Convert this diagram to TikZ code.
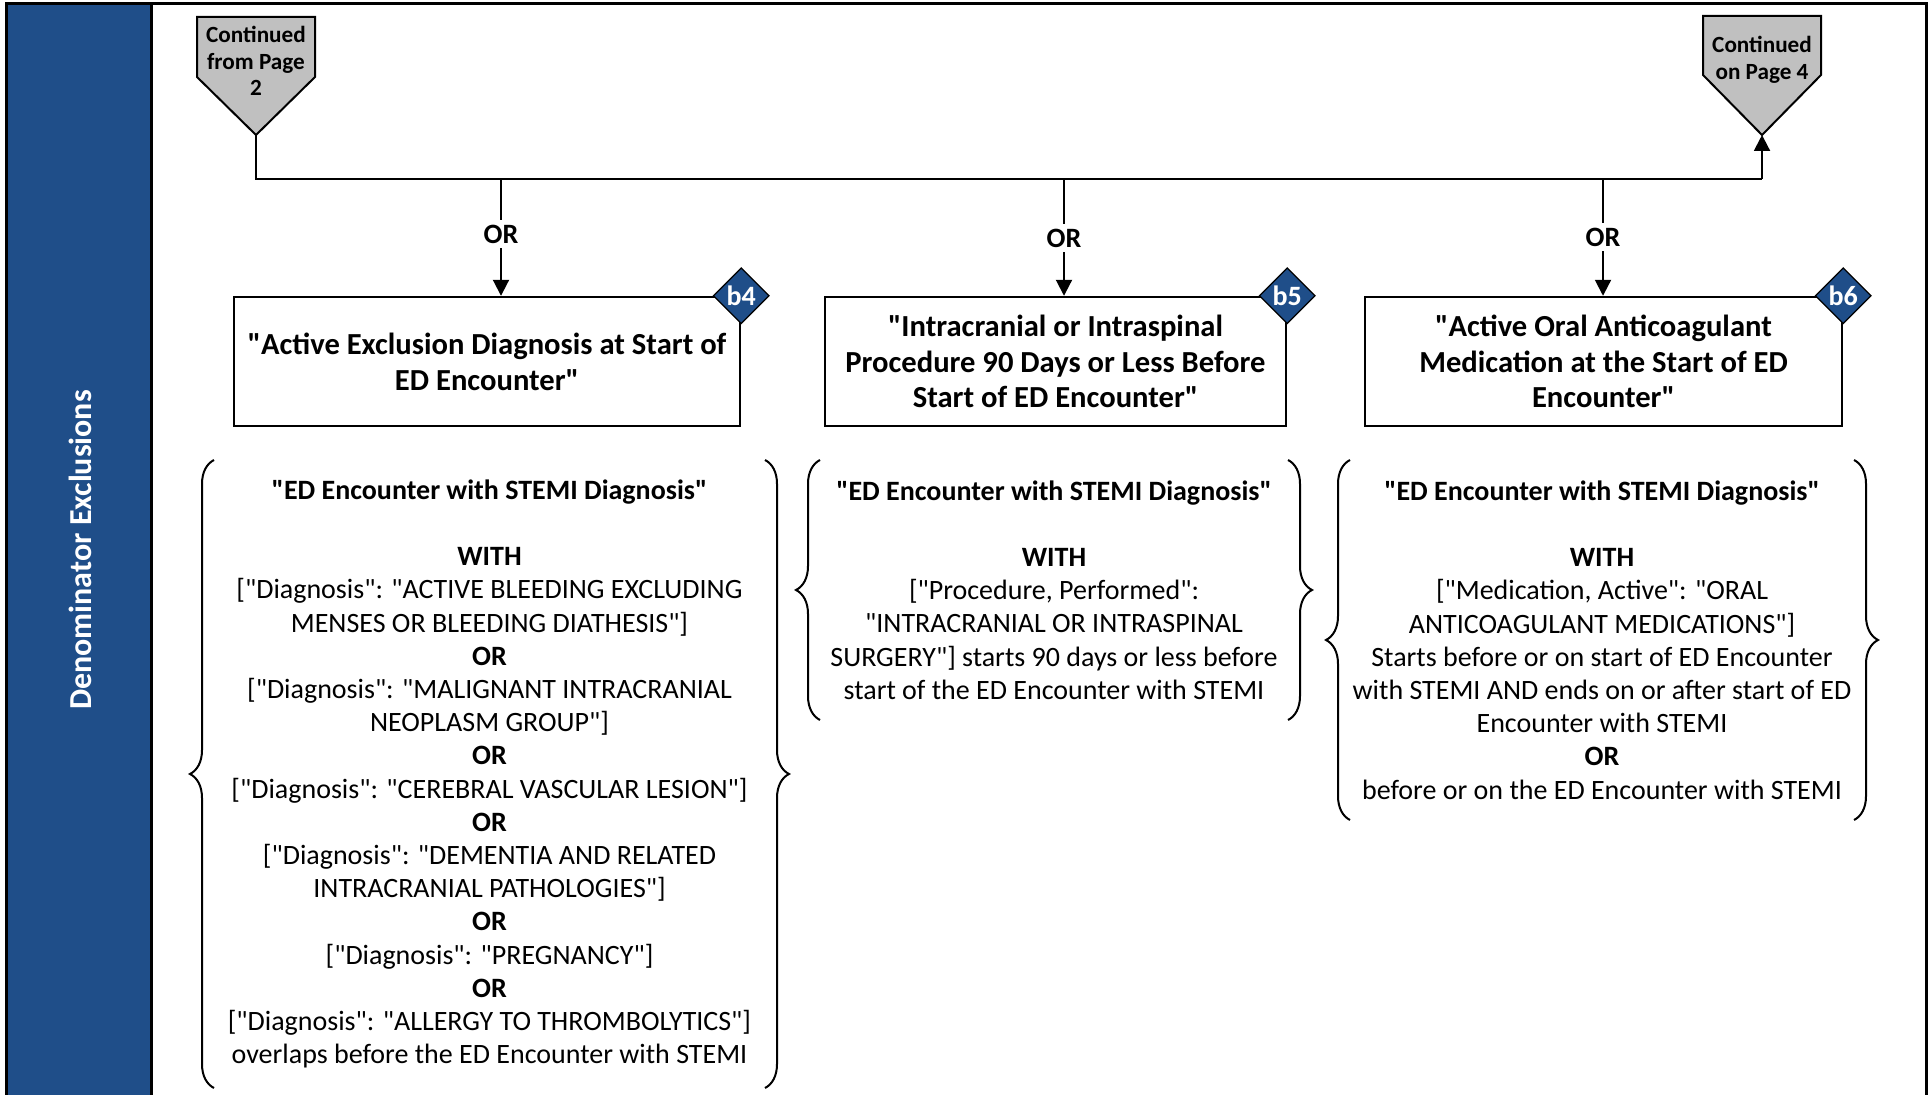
\documentclass[tikz,border=0pt]{standalone}
\usepackage{fontspec}
\newfontfamily\calib{Carlito}
\usetikzlibrary{arrows.meta,decorations.pathreplacing,shapes.geometric}
\definecolor{laneblue}{RGB}{31,78,137}
\definecolor{offgray}{RGB}{192,192,192}
\tikzset{
  arr/.style={-{Triangle[length=8pt,width=8pt]}},
  critbox/.style={draw, line width=1.2pt, fill=white, align=center, inner sep=0pt,
    minimum height=64.5pt, font=\calib\bfseries\fontsize{15.3}{17.9}\selectfont},
  tag/.style={diamond, draw=black, line width=0.6pt, fill=laneblue, text=white, inner sep=0pt,
    minimum width=28pt, minimum height=28pt, font=\calib\bfseries\fontsize{14}{14}\selectfont},
  ortxt/.style={fill=white, inner sep=2pt, font=\calib\bfseries\fontsize{14}{16}\selectfont},
  logic/.style={align=center, inner sep=0pt, font=\calib\fontsize{14}{16.6}\selectfont},
  bracel/.style={decorate, decoration={brace, amplitude=12pt}, line width=1pt},
  offtxt/.style={align=center, inner sep=0pt, font=\calib\bfseries\fontsize{11.6}{13.3}\selectfont}
}

\begin{document}
\begin{tikzpicture}[x=0.5pt,y=-0.5pt,line width=1pt]
\useasboundingbox (0,0) rectangle (1931,1095);
\fill[laneblue] (6,4) rectangle (151,1095);
\draw[line width=1.5pt] (6,1095) -- (6,4) -- (1926,4) -- (1926,1095);
\draw[line width=1.5pt] (151,4) -- (151,1095);
\node[rotate=90, text=white, font=\calib\bfseries\fontsize{16}{19}\selectfont] (lane) at (80,550) {Denominator Exclusions};

\filldraw[fill=offgray] (197,17) -- (315,17) -- (315,77) -- (256,135) -- (197,77) -- cycle;
\node[offtxt] (from2) at (256,61) {Continued\\from Page\\2};
\coordinate (from2tip) at (256,135);
\filldraw[fill=offgray] (1703,16) -- (1821,16) -- (1821,75) -- (1762,135) -- (1703,75) -- cycle;
\node[offtxt] (on4) at (1762,60) {Continued\\on Page 4};
\coordinate (on4tip) at (1762,135);

\coordinate (busL) at (256,179);
\coordinate (busR) at (1762,179);
\draw (from2tip) -- (busL) -- (busR);
\draw[arr] (busR) -- (on4tip);

\node[critbox, minimum width=253pt] (box4) at (487,361.5) {"Active Exclusion Diagnosis at Start of\\ED Encounter"};
\node[critbox, minimum width=230.5pt] (box5) at (1055.5,361.5) {"Intracranial or Intraspinal\\Procedure 90 Days or Less Before\\Start of ED Encounter"};
\node[critbox, minimum width=238.5pt] (box6) at (1603.5,361.5) {"Active Oral Anticoagulant\\Medication at the Start of ED\\Encounter"};
\node[tag] (tag4) at (box4.north east) {b4};
\node[tag] (tag5) at (box5.north east) {b5};
\node[tag] (tag6) at (box6.north east) {b6};

\node[ortxt] (orA) at (501,234) {OR};
\node[ortxt] (orB) at (1064,238) {OR};
\node[ortxt] (orC) at (1603,237) {OR};
\draw (orA |- busL) -- (orA);
\draw[arr] (orA) -- (orA |- box4.north);
\draw (orB |- busL) -- (orB);
\draw[arr] (orB) -- (orB |- box5.north);
\draw (orC |- busL) -- (orC);
\draw[arr] (orC) -- (orC |- box6.north);

\node[logic, minimum width=274.5pt, minimum height=313pt] (grp4) at (489.5,774) {\textbf{"ED Encounter with STEMI Diagnosis"}\\[16.6pt]
\textbf{WITH}\\
{[}"Diagnosis": "ACTIVE BLEEDING EXCLUDING\\
MENSES OR BLEEDING DIATHESIS"]\\
\textbf{OR}\\
{[}"Diagnosis": "MALIGNANT INTRACRANIAL\\
NEOPLASM GROUP"]\\
\textbf{OR}\\
{[}"Diagnosis": "CEREBRAL VASCULAR LESION"]\\
\textbf{OR}\\
{[}"Diagnosis": "DEMENTIA AND RELATED\\
INTRACRANIAL PATHOLOGIES"]\\
\textbf{OR}\\
{[}"Diagnosis": "PREGNANCY"]\\
\textbf{OR}\\
{[}"Diagnosis": "ALLERGY TO THROMBOLYTICS"]\\
overlaps before the ED Encounter with STEMI};
\draw[bracel] (grp4.south west) -- (grp4.north west);
\draw[bracel] (grp4.north east) -- (grp4.south east);

\node[logic, minimum width=233pt, minimum height=129pt] (grp5) at (1054,590) {\textbf{"ED Encounter with STEMI Diagnosis"}\\[16.6pt]
\textbf{WITH}\\
{[}"Procedure, Performed":\\
"INTRACRANIAL OR INTRASPINAL\\
SURGERY"] starts 90 days or less before\\
start of the ED Encounter with STEMI};
\draw[bracel] (grp5.south west) -- (grp5.north west);
\draw[bracel] (grp5.north east) -- (grp5.south east);

\node[logic, minimum width=251pt, minimum height=179pt] (grp6) at (1602,640) {\textbf{"ED Encounter with STEMI Diagnosis"}\\[16.6pt]
\textbf{WITH}\\
{[}"Medication, Active": "ORAL\\
ANTICOAGULANT MEDICATIONS"]\\
Starts before or on start of ED Encounter\\
with STEMI AND ends on or after start of ED\\
Encounter with STEMI\\
\textbf{OR}\\
before or on the ED Encounter with STEMI};
\draw[bracel] (grp6.south west) -- (grp6.north west);
\draw[bracel] (grp6.north east) -- (grp6.south east);
\end{tikzpicture}
\end{document}
